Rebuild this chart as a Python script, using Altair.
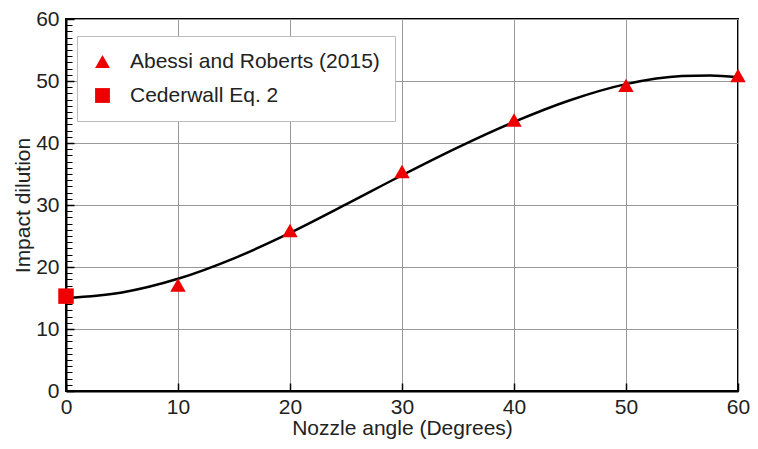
import altair as alt
import pandas as pd

# Fitted curve
curve_x = [0, 5, 10, 15, 20, 25, 30, 35, 40, 45, 50, 55, 57.5, 60]
curve_y = [15.0, 15.9, 18.1, 21.4, 25.5, 30.1, 34.8, 39.3, 43.4, 46.9, 49.5, 50.8, 50.9, 50.6]

# Measured points
abessi_x = [10, 20, 30, 40, 50, 60]
abessi_y = [17.1, 25.9, 35.4, 43.7, 49.3, 50.9]
ceder_x = [0]
ceder_y = [15.3]

series_names = ["Abessi and Roberts (2015)", "Cederwall Eq. 2"]

FONT = "Liberation Sans"
FS = 21

curve_df = pd.DataFrame({"x": curve_x, "y": curve_y})
pts_df = pd.DataFrame({
    "x": abessi_x + ceder_x,
    "y": abessi_y + ceder_y,
    "series": [series_names[0]] * len(abessi_x) + [series_names[1]] * len(ceder_x),
})

xs = alt.Scale(domain=[0, 60], nice=False, zero=False)
ys = alt.Scale(domain=[0, 60], nice=False, zero=False)

major = list(range(0, 61, 10))
minor = list(range(0, 61, 1))

main = alt.Chart(curve_df).mark_line(color="black", strokeWidth=2.5, interpolate="monotone").encode(
    x=alt.X("x:Q", scale=xs, axis=alt.Axis(
        orient="bottom", values=major, title="Nozzle angle (Degrees)", grid=True,
        gridColor="#999999", gridWidth=1, ticks=False, domainColor="black", domainWidth=2,
        labelFont=FONT, labelFontSize=FS, labelColor="#222", labelPadding=5,
        labelFlush=False, labelOverlap=False,
        titleFont=FONT, titleFontSize=FS, titleFontWeight="normal", titleColor="#222", titlePadding=0)),
    y=alt.Y("y:Q", scale=ys, axis=alt.Axis(
        orient="left", values=major, title="Impact dilution", grid=True,
        gridColor="#999999", gridWidth=1, ticks=False, domainColor="black", domainWidth=2,
        labelFont=FONT, labelFontSize=FS, labelColor="#222", labelPadding=7,
        labelFlush=False, labelOverlap=False,
        titleFont=FONT, titleFontSize=FS, titleFontWeight="normal", titleColor="#222", titlePadding=2)),
)

major_ticks = alt.Chart(curve_df).mark_line(opacity=0).encode(
    x=alt.X("x:Q", scale=xs, axis=alt.Axis(
        orient="bottom", values=major, title=None, labels=False, grid=False, domain=False,
        tickSize=8, offset=-8, tickColor="black", tickWidth=1.5)),
    y=alt.Y("y:Q", scale=ys, axis=alt.Axis(
        orient="left", values=major, title=None, labels=False, grid=False, domain=False,
        tickSize=8, offset=-8, tickColor="black", tickWidth=1.5)),
)

minor_ticks = alt.Chart(curve_df).mark_line(opacity=0).encode(
    x=alt.X("x:Q", scale=xs, axis=None),
    y=alt.Y("y:Q", scale=ys, axis=alt.Axis(
        orient="left", values=minor, title=None, labels=False, grid=False, domain=False,
        tickSize=6, offset=-6, tickColor="black", tickWidth=1)),
)

points = alt.Chart(pts_df).mark_point(filled=True, opacity=1, color="#ee0000", size=240).encode(
    x=alt.X("x:Q", scale=xs, axis=None),
    y=alt.Y("y:Q", scale=ys, axis=None),
    shape=alt.Shape("series:N", scale=alt.Scale(domain=series_names, range=["triangle-up", "square"]),
                    legend=alt.Legend(
                        title=None, orient="none", legendX=11, legendY=17,
                        fillColor="white", strokeColor="#bbbbbb", padding=15,
                        labelFont=FONT, labelFontSize=FS, labelColor="#222",
                        symbolFillColor="#ee0000", symbolStrokeColor="#ee0000",
                        symbolSize=220, symbolOffset=0, labelOffset=17, rowPadding=12,
                        labelLimit=400)),
)

chart = alt.layer(major_ticks, minor_ticks, main, points).resolve_scale(
    x="independent", y="independent"
).properties(
    width=672, height=372,
    autosize=alt.AutoSizeParams(type="none"),
    padding={"left": 58, "top": 11, "right": 12, "bottom": 50},
).configure_view(stroke="black", strokeWidth=2)

chart.save("out.html", embed_options={"renderer": "svg", "actions": False})
